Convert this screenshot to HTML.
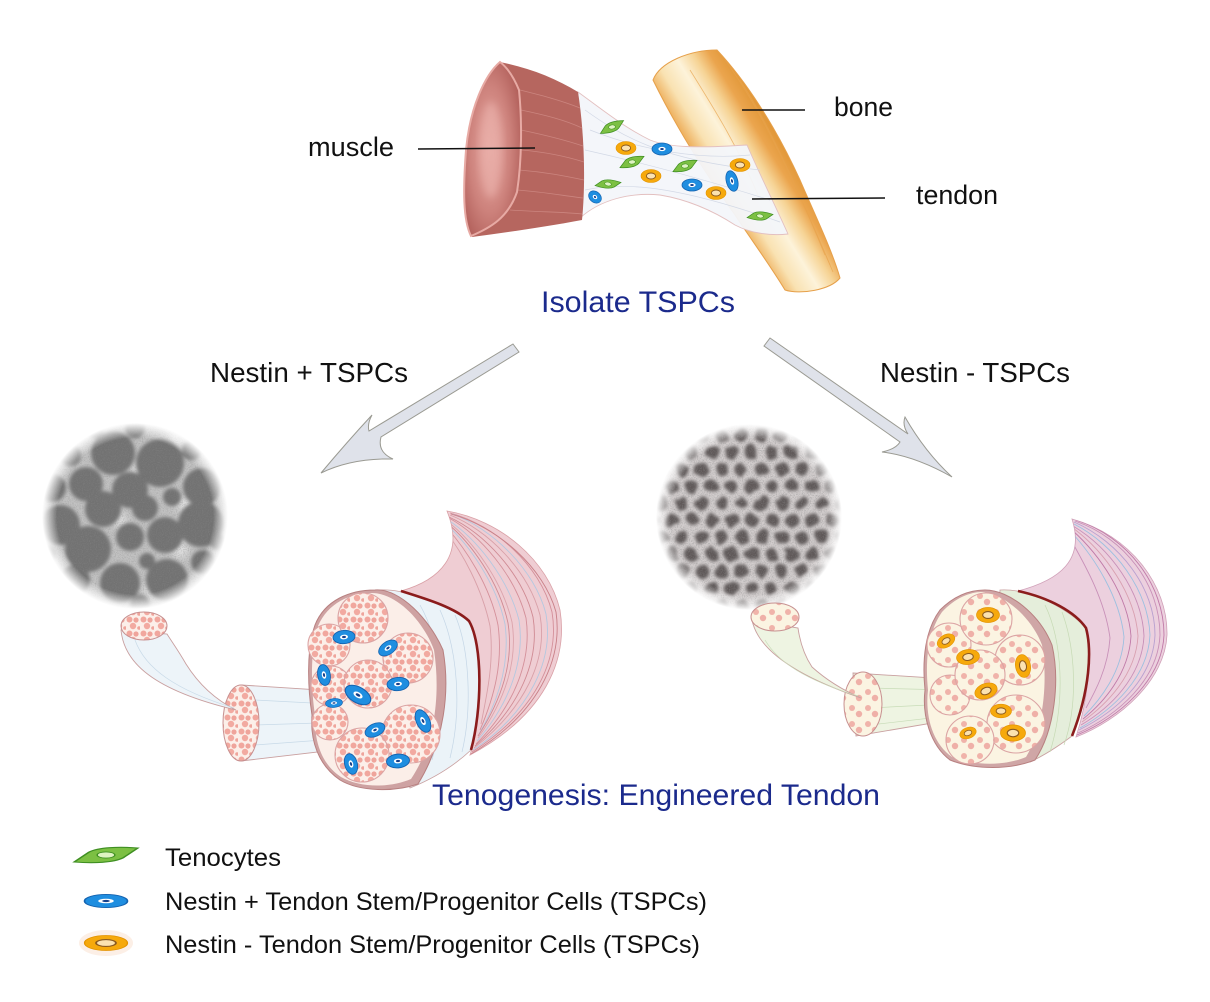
<!DOCTYPE html>
<html><head><meta charset="utf-8"><style>
html,body{margin:0;padding:0;background:#fff;}
svg{display:block;}
text{font-family:"Liberation Sans",Arial,sans-serif;}
</style></head><body>
<svg width="1210" height="1002" viewBox="0 0 1210 1002" xmlns="http://www.w3.org/2000/svg">
<defs>
  <radialGradient id="fade"><stop offset="0.84" stop-color="#fff"/><stop offset="1" stop-color="#000"/></radialGradient>
  <mask id="m1"><circle cx="135" cy="516" r="93" fill="url(#fade)"/></mask>
  <mask id="m2"><circle cx="749" cy="517" r="93" fill="url(#fade)"/></mask>
  <filter id="b1" x="-20%" y="-20%" width="140%" height="140%"><feGaussianBlur stdDeviation="1.8"/></filter>
  <filter id="b3" x="-20%" y="-20%" width="140%" height="140%"><feGaussianBlur stdDeviation="4"/></filter>
  <filter id="grain" x="0" y="0" width="100%" height="100%">
    <feTurbulence type="fractalNoise" baseFrequency="0.85" numOctaves="2" seed="4"/>
    <feColorMatrix type="matrix" values="0 0 0 0 0.25  0 0 0 0 0.25  0 0 0 0 0.25  0 0 0 2.2 -0.95"/>
  </filter>
  <filter id="jit" filterUnits="userSpaceOnUse" x="630" y="400" width="240" height="240">
    <feTurbulence type="turbulence" baseFrequency="0.05" numOctaves="2" seed="7" result="n"/>
    <feDisplacementMap in="SourceGraphic" in2="n" scale="7" xChannelSelector="R" yChannelSelector="G"/>
    <feGaussianBlur stdDeviation="1.5"/>
  </filter>
  <pattern id="dots" width="20" height="34" patternUnits="userSpaceOnUse">
    <circle cx="10" cy="8.5" r="6.6" fill="#5f5959"/>
    <circle cx="0" cy="25.5" r="6.6" fill="#5f5959"/>
    <circle cx="20" cy="25.5" r="6.6" fill="#5f5959"/>
  </pattern>
  <pattern id="pk1" width="14" height="14" patternUnits="userSpaceOnUse">
    <rect width="14" height="14" fill="#fcefe9"/>
    <circle cx="3.5" cy="3.5" r="3" fill="#f1a79e"/>
    <circle cx="10" cy="4" r="2.6" fill="#efa49b"/>
    <circle cx="7" cy="10" r="3.2" fill="#f2aaa1"/>
    <circle cx="13" cy="12" r="1.8" fill="#efa49b"/>
  </pattern>
  <pattern id="pk2" width="16" height="16" patternUnits="userSpaceOnUse">
    <rect width="16" height="16" fill="#fbf4e2"/>
    <circle cx="4" cy="4" r="3" fill="#f0b3aa"/>
    <circle cx="11" cy="10" r="3.2" fill="#efb0a8"/>
  </pattern>
  <g id="bc"><ellipse rx="10" ry="6" fill="#1f8ee0" stroke="#1463b0" stroke-width="0.8"/><ellipse rx="3.6" ry="2.1" fill="#ffffff"/><ellipse rx="1.8" ry="1" fill="#153f8a"/></g>
  <g id="oc"><ellipse rx="10" ry="6.5" fill="#f6a90c" stroke="#e39300" stroke-width="0.6"/><ellipse rx="4.6" ry="3" fill="#fbe2b0" stroke="#8a5a20" stroke-width="0.9"/></g>
  <g id="gc"><path d="M-13,5 L-7,-2 C-3,-5.5 5,-6 13,-5 L7,2 C3,5.5 -5,6 -13,5 Z" fill="#7cc043" stroke="#3f8f22" stroke-width="0.8"/><ellipse rx="3.6" ry="2.2" fill="#dff3c2" stroke="#3f8f22" stroke-width="0.6"/></g>
  <clipPath id="hornL"><path d="M447,511 C500,520 548,560 560,610 C568,660 545,715 470,755 C482,720 483,650 469,621 C455,608 430,598 401,591 C440,580 465,555 447,511 Z"/></clipPath>
  <clipPath id="hornR"><path d="M1072,519 C1130,535 1168,585 1167,635 C1165,680 1120,720 1076,737 C1088,700 1092,660 1086,628 C1070,610 1045,596 1018,591 C1060,580 1085,560 1072,519 Z"/></clipPath>
  <linearGradient id="boneG" gradientUnits="userSpaceOnUse" x1="700" y1="160" x2="768" y2="118">
    <stop offset="0" stop-color="#efb464"/><stop offset="0.18" stop-color="#f9e2b2"/>
    <stop offset="0.42" stop-color="#fdf3da"/><stop offset="0.62" stop-color="#f6d496"/>
    <stop offset="0.8" stop-color="#eba54e"/><stop offset="1" stop-color="#e09636"/>
  </linearGradient>
  <radialGradient id="faceG" cx="0.45" cy="0.5" r="0.6"><stop offset="0" stop-color="#e6a7a1"/><stop offset="0.6" stop-color="#cd827c"/><stop offset="1" stop-color="#b2605b"/></radialGradient>
</defs>

<!-- ===== TOP: bone, tendon, muscle ===== -->
<path d="M653,80 C660,62 690,50 717,50 C745,80 775,125 800,180 C815,215 832,250 840,278 C830,290 800,295 785,290 C770,265 750,238 735,215 C710,180 680,135 653,80 Z" fill="url(#boneG)" stroke="#e6a04a" stroke-width="1"/>
<g stroke="#e8a34c" stroke-width="0.8" opacity="0.7" fill="none">
  <path d="M725,60 C755,100 790,170 825,255"/><path d="M732,70 C762,112 796,185 830,265"/>
  <path d="M690,70 C715,110 740,150 760,200"/><path d="M740,80 C770,125 800,195 833,272"/>
</g>
<path d="M578,92 C600,108 625,128 650,140 C670,148 700,148 747,145 C760,175 775,205 788,234 C770,236 750,233 735,225 C715,212 690,200 660,195 C630,192 600,200 580,218 Z" fill="#f3f5fa" fill-opacity="0.95" stroke="#e3c0c0" stroke-width="0.9"/>
<g stroke="#d3d9e6" stroke-width="0.7" fill="none">
  <path d="M585,110 C620,135 660,160 760,170"/><path d="M585,150 C630,160 690,175 770,200"/>
  <path d="M585,190 C630,180 690,190 780,222"/><path d="M590,130 C640,150 700,160 750,155"/>
</g>
<!-- muscle -->
<path d="M500,62 C530,68 555,78 578,92 C584,130 586,180 582,220 C550,226 510,232 472,237 Z" fill="#b6665f"/>
<g stroke="#d18d87" stroke-width="0.8" fill="none" opacity="0.8">
  <path d="M520,90 C540,95 560,100 580,108"/><path d="M521,110 C545,115 565,120 582,128"/>
  <path d="M521,130 C545,135 565,140 583,146"/><path d="M521,150 C545,152 565,156 584,162"/>
  <path d="M519,170 C545,172 565,176 584,180"/><path d="M517,190 C545,192 565,196 583,198"/>
  <path d="M510,210 C540,212 565,212 582,214"/>
</g>
<path d="M500,62 C485,75 470,107 466,150 C463,190 463,220 471,236 C490,228 508,218 517,192 C522,160 522,120 519,90 C514,78 508,68 500,62 Z" fill="url(#faceG)" stroke="#e7aaa4" stroke-width="2"/>
<ellipse cx="491" cy="150" rx="11" ry="48" fill="#eab0aa" opacity="0.7" filter="url(#b3)"/>
<!-- top cells -->
<use href="#gc" transform="translate(612,127) rotate(-8) scale(0.95)"/>
<use href="#gc" transform="translate(632,162) rotate(-4) scale(0.95)"/>
<use href="#gc" transform="translate(685,166) rotate(-4) scale(0.95)"/>
<use href="#gc" transform="translate(608,184) rotate(12) scale(0.95,0.85)"/>
<use href="#gc" transform="translate(760,216) rotate(12) scale(0.95,0.85)"/>
<use href="#oc" transform="translate(626,148)"/>
<use href="#oc" transform="translate(651,176)"/>
<use href="#oc" transform="translate(716,193)"/>
<use href="#oc" transform="translate(740,165)"/>
<use href="#bc" transform="translate(662,149)"/>
<use href="#bc" transform="translate(692,185)"/>
<use href="#bc" transform="translate(732,181) rotate(75) scale(1.05,0.95)"/>
<use href="#bc" transform="translate(595,197) rotate(40) scale(0.7,0.9)"/>
<!-- label lines -->
<g stroke="#111" stroke-width="1.5">
  <line x1="418" y1="149" x2="535" y2="148"/>
  <line x1="742" y1="110" x2="805" y2="110"/>
  <line x1="752" y1="199" x2="885" y2="198"/>
</g>
<text x="308" y="156" font-size="27" fill="#111" textLength="86" lengthAdjust="spacingAndGlyphs">muscle</text>
<text x="834" y="116" font-size="27" fill="#111" textLength="59" lengthAdjust="spacingAndGlyphs">bone</text>
<text x="916" y="204" font-size="27" fill="#111" textLength="82" lengthAdjust="spacingAndGlyphs">tendon</text>
<text x="541" y="312" font-size="30" fill="#1b2a8c" textLength="194" lengthAdjust="spacingAndGlyphs">Isolate TSPCs</text>
<text x="210" y="382" font-size="27.5" fill="#111" textLength="198" lengthAdjust="spacingAndGlyphs">Nestin + TSPCs</text>
<text x="880" y="382" font-size="27.5" fill="#111" textLength="190" lengthAdjust="spacingAndGlyphs">Nestin - TSPCs</text>

<!-- arrows -->
<path d="M513,344 L519,352 L381,437 Q377,452 393,459 Q352,458 321,473 Q347,442 372,415 Q367,424 369,431 Z" fill="#dfe2ea" stroke="#9a9a92" stroke-width="1"/>
<path d="M770,338 L908,434 Q902,425 905,417 Q925,452 952,477 Q915,456 882,452 Q896,449 900,442 L764,346 Z" fill="#dfe2ea" stroke="#9a9a92" stroke-width="1"/>

<!-- ===== gray circles ===== -->
<g mask="url(#m1)">
  <circle cx="135" cy="516" r="93" fill="#c2c2c2"/>
  <g fill="#e2e2e2" filter="url(#b3)">
    <circle cx="140" cy="470" r="8"/><circle cx="185" cy="505" r="8"/><circle cx="120" cy="520" r="7"/>
    <circle cx="180" cy="550" r="8"/><circle cx="150" cy="590" r="7"/><circle cx="175" cy="440" r="7"/>
  </g>
  <g fill="#727272" filter="url(#b1)">
    <circle cx="113" cy="453" r="22"/><circle cx="160" cy="463" r="24"/><circle cx="86" cy="484" r="17"/>
    <circle cx="130" cy="490" r="18"/><circle cx="202" cy="487" r="19"/><circle cx="172" cy="497" r="9"/>
    <circle cx="103" cy="509" r="18"/><circle cx="145" cy="508" r="13"/><circle cx="60" cy="525" r="20"/>
    <circle cx="201" cy="524" r="23"/><circle cx="130" cy="537" r="14"/><circle cx="165" cy="535" r="18"/>
    <circle cx="88" cy="549" r="23"/><circle cx="147" cy="561" r="8"/><circle cx="203" cy="562" r="12"/>
    <circle cx="167" cy="580" r="21"/><circle cx="120" cy="583" r="20"/><circle cx="75" cy="580" r="15"/>
    <circle cx="52" cy="488" r="14"/><circle cx="192" cy="450" r="10"/><circle cx="70" cy="455" r="11"/>
    <circle cx="135" cy="428" r="10"/><circle cx="218" cy="542" r="8"/><circle cx="45" cy="555" r="10"/>
    <circle cx="95" cy="430" r="8"/><circle cx="140" cy="605" r="10"/>
  </g>
  <rect x="40" y="420" width="190" height="190" filter="url(#grain)" opacity="0.5"/>
</g>
<g mask="url(#m2)">
  <circle cx="749" cy="517" r="93" fill="#d3cece"/>
  <g filter="url(#jit)"><rect x="640" y="410" width="220" height="220" fill="url(#dots)"/></g>
  <rect x="650" y="420" width="200" height="200" filter="url(#grain)" opacity="0.6"/>
</g>

<!-- ===== LEFT BUNDLE ===== -->
<path d="M447,511 C500,520 548,560 560,610 C568,660 545,715 470,755 C482,720 483,650 469,621 C455,608 430,598 401,591 C440,580 465,555 447,511 Z" fill="#efcdd3" stroke="#d9a0a6" stroke-width="0.8"/>
<g clip-path="url(#hornL)" fill="none" stroke-width="0.9">
  <path d="M450,513 C495,525 540,565 552,612 C560,660 535,712 472,752" stroke="#d4909a"/>
  <path d="M450,515 C488,530 528,570 540,615 C548,660 525,708 474,748" stroke="#d8a0a8"/>
  <path d="M449,518 C480,535 515,575 526,618 C532,660 515,705 476,744" stroke="#d4909a"/>
  <path d="M448,522 C472,540 502,580 512,622 C518,662 505,700 478,738" stroke="#dba4ac"/>
  <path d="M447,528 C465,548 490,585 498,625 C503,662 495,695 480,730" stroke="#d4909a"/>
  <path d="M452,514 C492,528 535,570 546,614 C554,660 530,712 473,750" stroke="#b4c8e0"/>
  <path d="M448,520 C476,538 508,578 519,620 C525,660 510,703 477,741" stroke="#b4c8e0"/>
  <path d="M447,525 C468,544 496,582 505,624 C510,662 500,698 479,734" stroke="#b4c8e0"/>
  <path d="M451,514 C498,527 544,568 556,612 C563,660 538,714 471,754" stroke="#c98088"/>
  <path d="M449,517 C484,533 522,573 533,617 C540,660 520,707 475,746" stroke="#cf8a93"/>
  <path d="M448,524 C470,542 499,581 508,623 C514,662 502,699 478,736" stroke="#cf8a93"/>
  <path d="M446,532 C462,552 482,588 490,626 C494,660 488,690 481,724" stroke="#d8a0a8"/>
</g>
<path d="M373,591 C395,586 440,600 469,621 C485,650 482,710 471,750 C455,765 435,778 410,788 L380,690 Z" fill="#ebf3f8" stroke="#c9a0a0" stroke-width="0.8"/>
<g stroke="#c4d6e6" stroke-width="0.7" fill="none">
  <path d="M420,605 C440,640 448,700 432,760"/><path d="M440,610 C458,650 462,710 450,758"/>
  <path d="M455,615 C470,650 472,710 462,752"/>
</g>
<path d="M401,591 C430,600 455,608 469,621 C483,645 482,710 471,750" fill="none" stroke="#8b1c1c" stroke-width="2.6"/>
<!-- medium tube -->
<path d="M241,685 L352,692 L352,748 L241,761 Z" fill="#edf4f9" stroke="#c9a0a0" stroke-width="0.9"/>
<g stroke="#c8dae8" stroke-width="0.7" fill="none"><path d="M255,700 L350,705"/><path d="M255,725 L350,722"/><path d="M255,745 L350,738"/></g>
<ellipse cx="241" cy="723" rx="18" ry="38" fill="url(#pk1)" stroke="#c79090" stroke-width="1"/>
<!-- strand -->
<path d="M121,630 C124,662 152,690 236,710 C212,698 196,680 186,664 C178,650 172,642 167,634 Z" fill="#edf4f9" stroke="#c9a0a0" stroke-width="0.9"/>
<path d="M135,640 C145,668 175,690 234,708" fill="none" stroke="#c8dae8" stroke-width="0.7"/>
<ellipse cx="144" cy="626" rx="23" ry="14" fill="url(#pk1)" stroke="#c79090" stroke-width="1"/>
<!-- section -->
<path d="M375,590 C400,588 430,620 443,650 C450,690 445,740 418,784 C395,792 360,792 340,780 C318,765 310,740 312,715 C308,690 306,650 315,625 C325,600 350,590 375,590 Z" fill="#cea2a2" stroke="#b88080" stroke-width="1"/>
<path d="M372,593 C396,593 423,620 434,650 C440,690 437,740 411,779 C390,788 360,788 341,777 C321,764 314,740 315,715 C311,690 310,650 318,626 C328,603 350,593 372,593 Z" fill="#fbeee8"/>
<g fill="url(#pk1)" stroke="#dba4a4" stroke-width="1.1">
  <circle cx="329" cy="645" r="21"/><circle cx="331" cy="686" r="20"/><circle cx="330" cy="722" r="18"/>
  <circle cx="363" cy="618" r="25"/><circle cx="408" cy="658" r="25"/><circle cx="368" cy="684" r="24"/>
  <circle cx="411" cy="734" r="29"/><circle cx="362" cy="755" r="27"/>
</g>
<use href="#bc" transform="translate(344,637) rotate(-5) scale(1.1)"/>
<use href="#bc" transform="translate(388,648) rotate(-35) scale(1.05)"/>
<use href="#bc" transform="translate(324,675) rotate(80) scale(1.05)"/>
<use href="#bc" transform="translate(398,684) rotate(-5) scale(1.1)"/>
<use href="#bc" transform="translate(358,695) rotate(30) scale(1.4,1.3)"/>
<use href="#bc" transform="translate(334,703) rotate(-5) scale(0.85,0.75)"/>
<use href="#bc" transform="translate(423,721) rotate(65) scale(1.2,1.1)"/>
<use href="#bc" transform="translate(375,730) rotate(-25) scale(1.05)"/>
<use href="#bc" transform="translate(351,764) rotate(75) scale(1.05)"/>
<use href="#bc" transform="translate(398,761) rotate(-5) scale(1.15)"/>

<!-- ===== RIGHT BUNDLE ===== -->
<path d="M1072,519 C1130,535 1168,585 1167,635 C1165,680 1120,720 1076,737 C1088,700 1092,660 1086,628 C1070,610 1045,596 1018,591 C1060,580 1085,560 1072,519 Z" fill="#ecd0de" stroke="#d0a0b8" stroke-width="0.8"/>
<g clip-path="url(#hornR)" fill="none" stroke-width="0.9">
  <path d="M1075,521 C1125,538 1160,585 1160,635 C1158,680 1118,715 1078,733" stroke="#c890b8"/>
  <path d="M1074,524 C1115,545 1148,590 1150,635 C1148,678 1112,710 1080,728" stroke="#9cc0e0"/>
  <path d="M1073,528 C1105,552 1135,594 1138,636 C1136,675 1106,705 1082,722" stroke="#d8a0b0"/>
  <path d="M1072,533 C1095,558 1120,598 1124,637 C1122,672 1100,700 1084,716" stroke="#9cc0e0"/>
  <path d="M1071,540 C1085,565 1105,600 1110,638 C1108,668 1095,692 1086,708" stroke="#c890b8"/>
  <path d="M1074,522 C1120,542 1155,588 1155,635 C1153,680 1115,712 1079,730" stroke="#b8a0d0"/>
  <path d="M1076,520 C1128,537 1164,585 1164,635 C1162,680 1120,717 1077,735" stroke="#c07aa8"/>
  <path d="M1073,526 C1110,548 1142,592 1144,636 C1142,677 1110,708 1081,725" stroke="#c890b8"/>
  <path d="M1072,530 C1100,555 1128,596 1131,636 C1129,674 1103,703 1083,719" stroke="#c07aa8"/>
</g>
<path d="M1000,590 C1030,588 1070,610 1086,628 C1092,660 1088,700 1072,736 C1060,745 1045,755 1030,762 L995,690 Z" fill="#e5eedb" stroke="#c9a0a0" stroke-width="0.8"/>
<g stroke="#c6dab4" stroke-width="0.7" fill="none">
  <path d="M1045,605 C1062,640 1066,700 1050,752"/><path d="M1062,612 C1076,650 1078,705 1064,745"/>
</g>
<path d="M1018,591 C1050,598 1075,612 1086,628 C1092,650 1090,690 1072,736" fill="none" stroke="#8b1c1c" stroke-width="2.6"/>
<!-- right medium tube -->
<path d="M853,673 L950,679 L950,720 L856,736 Z" fill="#eef4e2" stroke="#c9a0a0" stroke-width="0.9"/>
<g stroke="#c8dcb8" stroke-width="0.7" fill="none"><path d="M870,688 L948,690"/><path d="M870,708 L948,704"/><path d="M870,725 L948,716"/></g>
<ellipse cx="863" cy="704" rx="19" ry="32" fill="url(#pk2)" stroke="#c79090" stroke-width="1"/>
<path d="M752,620 C757,645 785,672 861,698 C838,688 822,676 812,667 C804,655 800,642 798,628 Z" fill="#eef4e2" stroke="#c9a0a0" stroke-width="0.9"/>
<path d="M765,640 C778,662 805,680 858,696" fill="none" stroke="#c8dcb8" stroke-width="0.7"/>
<ellipse cx="775" cy="617" rx="24" ry="14" fill="url(#pk2)" stroke="#c79090" stroke-width="1"/>
<!-- right section -->
<path d="M985,590 C1010,590 1040,615 1052,645 C1060,680 1055,730 1035,760 C1010,770 975,770 950,760 C930,745 922,715 925,690 C922,660 925,630 940,610 C955,595 970,590 985,590 Z" fill="#cfa6a6" stroke="#b88080" stroke-width="1"/>
<path d="M982,592 C1005,594 1032,618 1042,645 C1048,680 1044,728 1026,757 C1005,766 975,766 952,757 C932,743 925,715 928,690 C925,660 928,632 942,612 C955,598 970,592 982,592 Z" fill="#fbf4e2"/>
<g fill="url(#pk2)" stroke="#dba4a4" stroke-width="1.1">
  <circle cx="949" cy="645" r="22"/><circle cx="950" cy="695" r="20"/>
  <circle cx="986" cy="619" r="26"/><circle cx="1020" cy="660" r="25"/><circle cx="980" cy="675" r="25"/>
  <circle cx="1016" cy="724" r="29"/><circle cx="970" cy="740" r="24"/>
</g>
<use href="#oc" transform="translate(988,615) scale(1.15)"/>
<use href="#oc" transform="translate(946,641) rotate(-30) scale(0.95)"/>
<use href="#oc" transform="translate(968,657) rotate(-8) scale(1.15)"/>
<use href="#oc" transform="translate(986,691) rotate(-20) scale(1.15)"/>
<use href="#oc" transform="translate(1023,666) rotate(80) scale(1.15)"/>
<use href="#oc" transform="translate(1001,711) scale(1.05)"/>
<use href="#oc" transform="translate(968,733) rotate(-20) scale(0.85)"/>
<use href="#oc" transform="translate(1013,733) scale(1.25)"/>

<text x="432" y="805" font-size="30" fill="#1b2a8c" textLength="448" lengthAdjust="spacingAndGlyphs">Tenogenesis: Engineered Tendon</text>

<!-- ===== LEGEND ===== -->
<use href="#gc" transform="translate(106,855) scale(2.45,1.4)"/>
<use href="#bc" transform="translate(106,901) scale(2.15,1.1)"/>
<ellipse cx="106" cy="943" rx="27" ry="13" fill="#fcefe6"/>
<use href="#oc" transform="translate(106,943) scale(2.15,1.15)"/>
<text x="165" y="866" font-size="25" fill="#111" textLength="116" lengthAdjust="spacingAndGlyphs">Tenocytes</text>
<text x="165" y="910" font-size="25" fill="#111" textLength="542" lengthAdjust="spacingAndGlyphs">Nestin + Tendon Stem/Progenitor Cells (TSPCs)</text>
<text x="165" y="953" font-size="25" fill="#111" textLength="535" lengthAdjust="spacingAndGlyphs">Nestin - Tendon Stem/Progenitor Cells (TSPCs)</text>
</svg>
</body></html>
